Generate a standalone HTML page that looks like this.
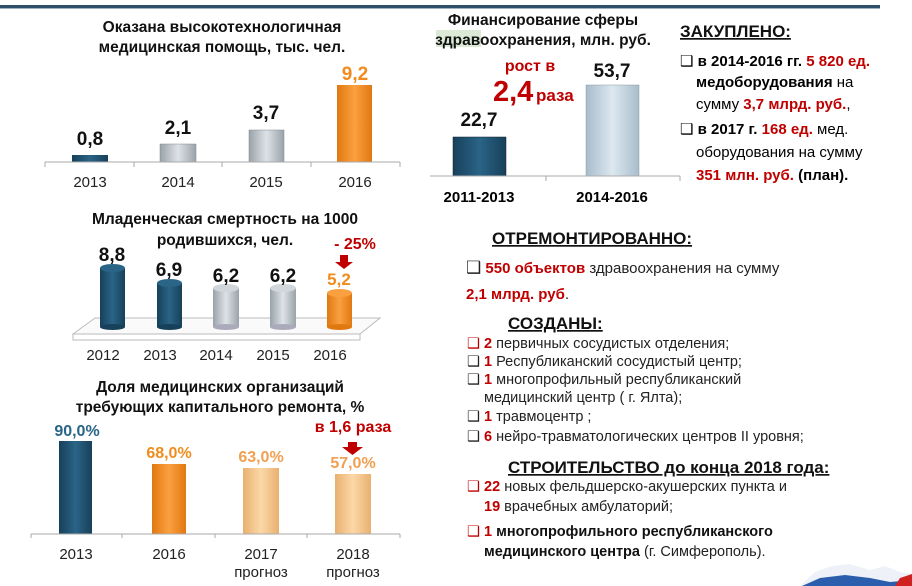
<!DOCTYPE html>
<html><head><meta charset="utf-8"><style>
body{margin:0;width:912px;height:586px;overflow:hidden;background:#fff}
svg{display:block}
text{font-family:"Liberation Sans",sans-serif}
.t{font-weight:bold;font-size:15.5px;fill:#111}
.y{font-size:15px;fill:#222}
.v{font-weight:bold;font-size:19px;fill:#111}
.r{fill:#c00000;font-weight:bold}
.b{font-weight:bold}
.n{font-size:15px;fill:#222}
</style></head><body>
<svg width="912" height="586" xmlns="http://www.w3.org/2000/svg">
<defs>
<linearGradient id="nav" x1="0" x2="1"><stop offset="0" stop-color="#17405a"/><stop offset=".5" stop-color="#2a6487"/><stop offset="1" stop-color="#17405a"/></linearGradient>
<linearGradient id="gr" x1="0" x2="1"><stop offset="0" stop-color="#9aa3aa"/><stop offset=".5" stop-color="#dde2e6"/><stop offset="1" stop-color="#9aa3aa"/></linearGradient>
<linearGradient id="or" x1="0" x2="1"><stop offset="0" stop-color="#e07810"/><stop offset=".5" stop-color="#fba040"/><stop offset="1" stop-color="#e07810"/></linearGradient>
<linearGradient id="lo" x1="0" x2="1"><stop offset="0" stop-color="#e8b070"/><stop offset=".5" stop-color="#fcd8a8"/><stop offset="1" stop-color="#e8b070"/></linearGradient>
<linearGradient id="lb" x1="0" x2="1"><stop offset="0" stop-color="#a8bccb"/><stop offset=".5" stop-color="#dde8f0"/><stop offset="1" stop-color="#a8bccb"/></linearGradient>
</defs>
<rect x="0" y="5" width="880" height="3" fill="#2f4f6a"/>
<rect x="0" y="8" width="880" height="1" fill="#9fb0bf"/>

<!-- chart 1 -->
<text class="t" x="222" y="32" text-anchor="middle">Оказана высокотехнологичная</text>
<text class="t" x="222" y="52" text-anchor="middle">медицинская помощь, тыс. чел.</text>
<rect x="72" y="155" width="36" height="7" fill="url(#nav)"/>
<rect x="160" y="144" width="36" height="18" fill="url(#gr)" stroke="#888" stroke-width=".5"/>
<rect x="249" y="130" width="35" height="32" fill="url(#gr)" stroke="#888" stroke-width=".5"/>
<rect x="337" y="85" width="35" height="77" fill="url(#or)"/>
<text class="v" x="90" y="145" text-anchor="middle">0,8</text>
<text class="v" x="178" y="134" text-anchor="middle">2,1</text>
<text class="v" x="266" y="119" text-anchor="middle">3,7</text>
<text class="v" x="355" y="80" text-anchor="middle" fill="#f08c1e" style="fill:#f08c1e">9,2</text>
<path d="M45 162H400M45 162v5M134 162v5M222 162v5M311 162v5M400 162v5" stroke="#aaa" fill="none"/>
<text class="y" x="90" y="187" text-anchor="middle">2013</text>
<text class="y" x="178" y="187" text-anchor="middle">2014</text>
<text class="y" x="266" y="187" text-anchor="middle">2015</text>
<text class="y" x="355" y="187" text-anchor="middle">2016</text>

<!-- chart 2 -->
<rect x="436" y="30" width="45" height="17" fill="#dbe9d6"/>
<text class="t" x="543" y="25" text-anchor="middle">Финансирование сферы</text>
<text class="t" x="543" y="45" text-anchor="middle">здравоохранения, млн. руб.</text>
<rect x="453" y="137" width="53" height="39" fill="url(#nav)" stroke="#123" stroke-width=".5"/>
<rect x="586" y="85" width="53" height="91" fill="url(#lb)" stroke="#8899a6" stroke-width=".5"/>
<text class="v" x="479" y="126" text-anchor="middle">22,7</text>
<text class="v" x="612" y="77" text-anchor="middle">53,7</text>
<text class="r" x="530" y="71" text-anchor="middle" font-size="16">рост в</text>
<text class="r" x="493" y="101" font-size="29">2,4</text>
<text class="r" x="536" y="101" font-size="17">раза</text>
<path d="M430 176H680M546 176v5M680 176v5" stroke="#aaa" fill="none"/>
<text class="b" x="479" y="202" text-anchor="middle" font-size="15">2011-2013</text>
<text class="b" x="612" y="202" text-anchor="middle" font-size="15">2014-2016</text>

<!-- закуплено -->
<text class="b" x="680" y="37" font-size="17" fill="#111" text-decoration="underline">ЗАКУПЛЕНО:</text>
<g font-size="15">
<text x="680" y="66" class="b"><tspan font-weight="normal">❑</tspan> в 2014-2016 гг. <tspan fill="#c00000">5 820 ед.</tspan></text>
<text x="696" y="87"><tspan class="b">медоборудования</tspan> на</text>
<text x="696" y="109">сумму  <tspan class="r">3,7 млрд. руб.</tspan>,</text>
<text x="680" y="134"><tspan>❑</tspan><tspan class="b"> в 2017 г. </tspan><tspan class="r">168 ед.</tspan> мед.</text>
<text x="696" y="157">оборудования на сумму</text>
<text x="696" y="180"><tspan class="r">351 млн. руб.</tspan><tspan class="b"> (план).</tspan></text>
</g>

<!-- chart 3 -->
<text class="t" x="225" y="224" text-anchor="middle">Младенческая смертность на 1000</text>
<text class="t" x="225" y="245" text-anchor="middle">родившихся, чел.</text>
<path d="M73 334L95 318H380L360 334Z" fill="#fafafa" stroke="#bbb"/>
<path d="M73 334v6H360v-6" fill="none" stroke="#bbb"/>
<g>
<rect x="100" y="268" width="25" height="59" fill="url(#nav)"/><ellipse cx="112.5" cy="268" rx="12.5" ry="4" fill="#2a6487"/><ellipse cx="112.5" cy="327" rx="12.5" ry="3" fill="#17405a"/>
<rect x="157" y="283" width="25" height="44" fill="url(#nav)"/><ellipse cx="169.5" cy="283" rx="12.5" ry="4" fill="#2a6487"/><ellipse cx="169.5" cy="327" rx="12.5" ry="3" fill="#17405a"/>
<rect x="213" y="288" width="26" height="39" fill="url(#gr)"/><ellipse cx="226" cy="288" rx="13" ry="4" fill="#d0d6da"/><ellipse cx="226" cy="327" rx="13" ry="3" fill="#aab"/>
<rect x="270" y="288" width="26" height="39" fill="url(#gr)"/><ellipse cx="283" cy="288" rx="13" ry="4" fill="#d0d6da"/><ellipse cx="283" cy="327" rx="13" ry="3" fill="#aab"/>
<rect x="327" y="293" width="25" height="34" fill="url(#or)"/><ellipse cx="339.5" cy="293" rx="12.5" ry="4" fill="#fba040"/><ellipse cx="339.5" cy="327" rx="12.5" ry="3" fill="#e07810"/>
</g>
<text class="v" x="112" y="261" text-anchor="middle" font-size="17">8,8</text>
<text class="v" x="169" y="276" text-anchor="middle" font-size="17">6,9</text>
<text class="v" x="226" y="282" text-anchor="middle" font-size="17">6,2</text>
<text class="v" x="283" y="282" text-anchor="middle" font-size="17">6,2</text>
<text x="339" y="285" text-anchor="middle" font-size="17" font-weight="bold" fill="#f08c1e">5,2</text>
<text class="r" x="355" y="249" text-anchor="middle" font-size="16">- 25%</text>
<path d="M340 255h8v7h5l-9 7-9-7h5z" fill="#c00000"/>
<text class="y" x="103" y="360" text-anchor="middle">2012</text>
<text class="y" x="160" y="360" text-anchor="middle">2013</text>
<text class="y" x="216" y="360" text-anchor="middle">2014</text>
<text class="y" x="273" y="360" text-anchor="middle">2015</text>
<text class="y" x="330" y="360" text-anchor="middle">2016</text>

<!-- chart 4 -->
<text class="t" x="220" y="392" text-anchor="middle">Доля медицинских организаций</text>
<text class="t" x="220" y="412" text-anchor="middle">требующих капитального ремонта, %</text>
<rect x="59" y="441" width="33" height="93" fill="url(#nav)"/>
<rect x="152" y="464" width="34" height="70" fill="url(#or)"/>
<rect x="243" y="468" width="36" height="66" fill="url(#lo)"/>
<rect x="335" y="474" width="36" height="60" fill="url(#lo)"/>
<text x="77" y="436" text-anchor="middle" font-size="16" font-weight="bold" fill="#2a6487">90,0%</text>
<text x="169" y="458" text-anchor="middle" font-size="16" font-weight="bold" fill="#f08c1e">68,0%</text>
<text x="261" y="462" text-anchor="middle" font-size="16" font-weight="bold" fill="#f0a050">63,0%</text>
<text x="353" y="468" text-anchor="middle" font-size="16" font-weight="bold" fill="#f0a050">57,0%</text>
<text class="r" x="353" y="432" text-anchor="middle" font-size="16">в 1,6 раза</text>
<path d="M348 442h9v5h6l-10.5 8-10.5-8h6z" fill="#c00000"/>
<path d="M31 534H400M31 534v4M122 534v4M215 534v4M307 534v4M400 534v4" stroke="#aaa" fill="none"/>
<text class="y" x="76" y="559" text-anchor="middle">2013</text>
<text class="y" x="169" y="559" text-anchor="middle">2016</text>
<text class="y" x="261" y="559" text-anchor="middle">2017</text>
<text class="y" x="261" y="577" text-anchor="middle" font-size="14">прогноз</text>
<text class="y" x="353" y="559" text-anchor="middle">2018</text>
<text class="y" x="353" y="577" text-anchor="middle" font-size="14">прогноз</text>

<!-- right text -->
<text x="492" y="244" font-size="17" font-weight="bold" fill="#111" text-decoration="underline">ОТРЕМОНТИРОВАННО:</text>
<text x="466" y="273" font-size="15" fill="#222"><tspan font-size="17">❑</tspan>   <tspan class="r">550 объектов</tspan> здравоохранения  на сумму</text>
<text x="466" y="299" font-size="15" class="r">2,1 млрд. руб<tspan fill="#222" font-weight="normal">.</tspan></text>
<text x="508" y="329" font-size="17" font-weight="bold" fill="#111" text-decoration="underline">СОЗДАНЫ:</text>
<g font-size="14.5" fill="#222">
<text x="467" y="348"><tspan fill="#c00000">❑</tspan>  <tspan class="r">2</tspan> первичных сосудистых отделения;</text>
<text x="467" y="366">❑  <tspan class="r">1</tspan>  Республиканский сосудистый центр;</text>
<text x="467" y="384">❑  <tspan class="r">1</tspan> многопрофильный республиканский</text>
<text x="484" y="402">медицинский центр ( г. Ялта);</text>
<text x="467" y="421">❑  <tspan class="r">1</tspan>  травмоцентр ;</text>
<text x="467" y="441">❑  <tspan class="r">6</tspan> нейро-травматологических центров II уровня;</text>
</g>
<text x="508" y="473" font-size="17" font-weight="bold" fill="#111" text-decoration="underline">СТРОИТЕЛЬСТВО до конца 2018 года:</text>
<g font-size="14.5" fill="#222">
<text x="467" y="491"><tspan fill="#c00000">❑</tspan> <tspan class="r">22</tspan> новых фельдшерско-акушерских пункта  и</text>
<text x="484" y="511"><tspan class="r">19</tspan> врачебных амбулаторий;</text>
<text x="467" y="536"><tspan fill="#c00000">❑</tspan> <tspan class="r">1</tspan> <tspan class="b" fill="#111">многопрофильного республиканского</tspan></text>
<text x="484" y="556"><tspan class="b" fill="#111">медицинского центра</tspan>  (г. Симферополь).</text>
</g>

<!-- map -->
<path d="M800 586L815 572 832 566 850 564 870 570 885 566 900 572 912 574V586Z" fill="#eef2f8"/>
<path d="M802 586L820 578 845 575 870 578 890 582 912 580V586Z" fill="#2b5fae"/>
<path d="M895 586L900 578 912 574V586Z" fill="#d02020"/>
</svg>
</body></html>
